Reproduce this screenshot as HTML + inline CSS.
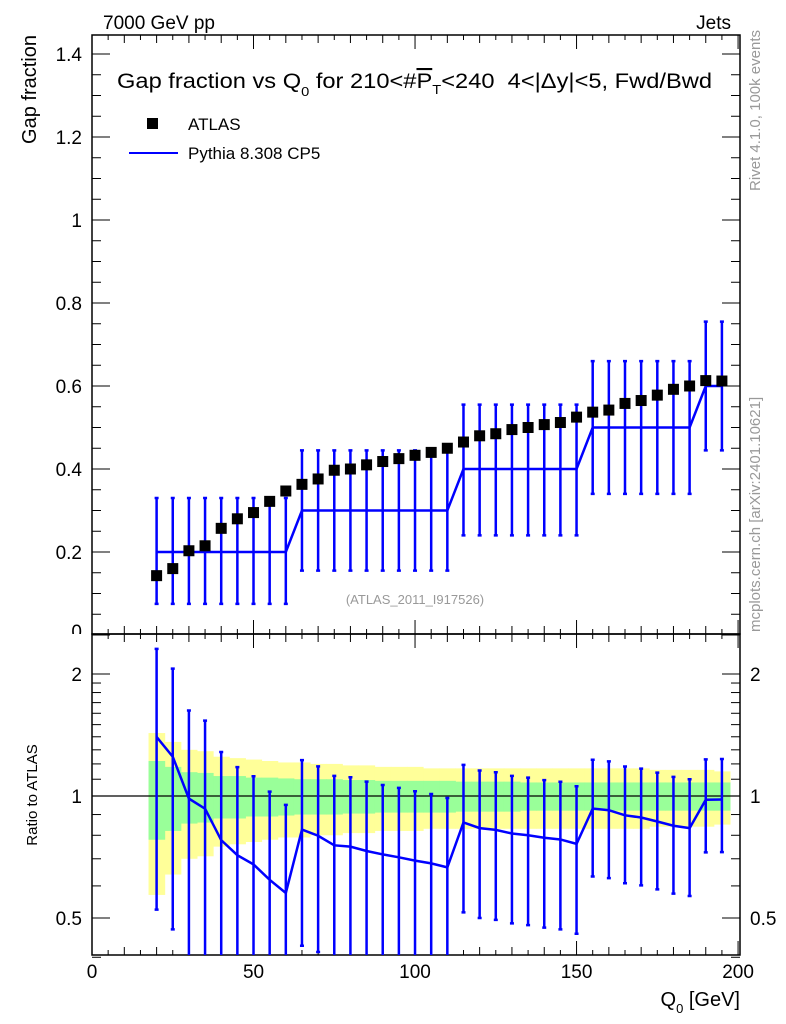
<!DOCTYPE html>
<html><head><meta charset="utf-8"><style>
body{margin:0;background:#fff}
svg{display:block;font-family:"Liberation Sans",sans-serif}
</style></head><body>
<svg id="c" width="786" height="1024" viewBox="0 0 786 1024" xmlns="http://www.w3.org/2000/svg">
<g id="bands"></g>
<g id="axes"></g>
<g id="marks"></g>
<text x="103" y="29" font-size="19">7000 GeV pp</text>
<text x="731" y="29" font-size="19" text-anchor="end">Jets</text>
<text x="117" y="88" font-size="21" textLength="595" lengthAdjust="spacingAndGlyphs" xml:space="preserve">Gap fraction vs Q<tspan font-size="13" dy="8">0</tspan><tspan dy="-8"> for 210&lt;#</tspan><tspan text-decoration="overline">P</tspan><tspan font-size="13" dy="6">T</tspan><tspan dy="-6">&lt;240  4&lt;|Δy|&lt;5, Fwd/Bwd</tspan></text>
<rect x="147" y="118" width="11" height="11" fill="#000"/>
<text x="188" y="130" font-size="17">ATLAS</text>
<line x1="129" y1="153" x2="178" y2="153" stroke="#00f" stroke-width="2"/>
<text x="188" y="159" font-size="17">Pythia 8.308 CP5</text>
<text x="415" y="604" font-size="13" fill="#999" text-anchor="middle">(ATLAS_2011_I917526)</text>
<text transform="translate(36,35) rotate(-90)" font-size="20" text-anchor="end">Gap fraction</text>
<text transform="translate(37,795) rotate(-90)" font-size="15" text-anchor="middle">Ratio to ATLAS</text>
<text transform="translate(760,30) rotate(-90)" font-size="15" fill="#999" text-anchor="end">Rivet 4.1.0,  100k events</text>
<text transform="translate(760,632) rotate(-90)" font-size="15" fill="#999">mcplots.cern.ch [arXiv:2401.10621]</text>
<text x="740" y="1006" font-size="20" text-anchor="end">Q<tspan font-size="13" dy="7">0</tspan><tspan dy="-7"> [GeV]</tspan></text>
</svg>
<script>
const xs=[20,25,30,35,40,45,50,55,60,65,70,75,80,85,90,95,100,105,110,115,120,125,130,135,140,145,150,155,160,165,170,175,180,185,190,195];
const dataY=[0.143,0.160,0.203,0.215,0.257,0.280,0.295,0.322,0.347,0.363,0.376,0.397,0.400,0.410,0.418,0.425,0.433,0.440,0.450,0.465,0.480,0.485,0.495,0.500,0.507,0.512,0.525,0.537,0.542,0.558,0.565,0.578,0.592,0.600,0.613,0.612];
const mcY=[0.2,0.2,0.2,0.2,0.2,0.2,0.2,0.2,0.2,0.3,0.3,0.3,0.3,0.3,0.3,0.3,0.3,0.3,0.3,0.4,0.4,0.4,0.4,0.4,0.4,0.4,0.4,0.5,0.5,0.5,0.5,0.5,0.5,0.5,0.6,0.6];
const mcLo=[0.075,0.075,0.075,0.075,0.075,0.075,0.075,0.075,0.075,0.155,0.155,0.155,0.155,0.155,0.155,0.155,0.155,0.155,0.155,0.24,0.24,0.24,0.24,0.24,0.24,0.24,0.24,0.34,0.34,0.34,0.34,0.34,0.34,0.34,0.445,0.445];
const mcHi=[0.33,0.33,0.33,0.33,0.33,0.33,0.33,0.33,0.33,0.445,0.445,0.445,0.445,0.445,0.445,0.445,0.445,0.445,0.445,0.555,0.555,0.555,0.555,0.555,0.555,0.555,0.555,0.66,0.66,0.66,0.66,0.66,0.66,0.66,0.755,0.755];
const statRel=[0.22,0.18,0.145,0.14,0.12,0.12,0.11,0.11,0.105,0.10,0.10,0.10,0.095,0.095,0.09,0.09,0.09,0.09,0.09,0.085,0.085,0.085,0.085,0.08,0.08,0.08,0.08,0.08,0.08,0.08,0.08,0.08,0.08,0.08,0.08,0.08];
const totRel=[0.43,0.36,0.30,0.29,0.25,0.24,0.23,0.22,0.21,0.21,0.20,0.20,0.19,0.19,0.18,0.18,0.18,0.17,0.17,0.17,0.17,0.17,0.17,0.17,0.17,0.17,0.17,0.17,0.17,0.17,0.17,0.16,0.16,0.16,0.16,0.15];
const xTicks=[0,50,100,150,200];
const yTicks=[0,0.2,0.4,0.6,0.8,1,1.2,1.4];
const yTickLabels=["0","0.2","0.4","0.6","0.8","1","1.2","1.4"];
const rTicks=[0.5,1,2];
const rTickLabels=["0.5","1","2"];
const rMinor=[0.4,0.6,0.7,0.8,0.9,1.1,1.2,1.3,1.4,1.5,1.6,1.7,1.8,1.9];

const NS="http://www.w3.org/2000/svg";
const L=92,R=740,T=35,M=634,B=955;
const X=v=>L+v*(R-L)/200.6;
const Y=v=>635-v*415;
const RY=v=>796-Math.log2(v)*122;
function mk(tag,a,p){const e=document.createElementNS(NS,tag);for(const k in a)e.setAttribute(k,a[k]);p.appendChild(e);return e;}
const bands=document.getElementById('bands'),axes=document.getElementById('axes'),marks=document.getElementById('marks');
const clip=mk('clipPath',{id:'rc'},document.getElementById('c'));
mk('rect',{x:L,y:M,width:R-L,height:B-M},clip);
bands.setAttribute('clip-path','url(#rc)');
xs.forEach((x,i)=>{
 const b=mk('rect',{x:X(x-2.5),y:RY(1+totRel[i]),width:X(x+2.5)-X(x-2.5)+0.5,height:RY(1-totRel[i])-RY(1+totRel[i]),fill:'#ffff99'},bands);
 
 
});
xs.forEach((x,i)=>{
 const b=mk('rect',{x:X(x-2.5),y:RY(1+statRel[i]),width:X(x+2.5)-X(x-2.5)+0.5,height:RY(1-statRel[i])-RY(1+statRel[i]),fill:'#99ff99'},bands);
 
 
});
const f1=mk('rect',{x:L,y:T,width:R-L,height:M-T,fill:'none',stroke:'#000','stroke-width':1.5},axes);

const f2=mk('rect',{x:L,y:M,width:R-L,height:B-M,fill:'none',stroke:'#000','stroke-width':1.5},axes);

const one=mk('line',{x1:L,x2:R,y1:RY(1),y2:RY(1),stroke:'#000','stroke-width':1.2},axes);

for(let v=0;v<=200;v+=5){
 const big=v%50===0, len=big?14:(v%10===0?8:5);
 [[T,1],[M,-1],[M,1],[B,-1]].forEach(([y0,d])=>{mk('line',{x1:X(v),x2:X(v),y1:y0,y2:y0+d*len,stroke:'#000','stroke-width':1},axes);});
}
xTicks.forEach(v=>{const t=mk('text',{x:X(v),y:978,'font-size':19,'text-anchor':'middle'},axes);t.textContent=v;
 });
for(let v=0;v<=1.44;v+=0.05){
 const vv=Math.round(v*100)/100,big=Math.round(vv*100)%20===0,len=big?18:9;
 mk('line',{x1:L,x2:L+len,y1:Y(vv),y2:Y(vv),stroke:'#000'},axes);
 mk('line',{x1:R,x2:R-len,y1:Y(vv),y2:Y(vv),stroke:'#000'},axes);
}
const tc=mk('clipPath',{id:'tc'},document.getElementById('c'));mk('rect',{x:0,y:0,width:100,height:M},tc);
yTicks.forEach((v,i)=>{const t=mk('text',{x:82,y:Y(v)+7,'font-size':19,'text-anchor':'end'},axes);t.textContent=yTickLabels[i];
 if(v===0){t.setAttribute('y',Y(v)+3);t.setAttribute('clip-path','url(#tc)');}
 });
rMinor.forEach(v=>{mk('line',{x1:L,x2:L+9,y1:RY(v),y2:RY(v),stroke:'#000'},axes);mk('line',{x1:R,x2:R-9,y1:RY(v),y2:RY(v),stroke:'#000'},axes);});
rTicks.forEach((v,i)=>{
 mk('line',{x1:L,x2:L+18,y1:RY(v),y2:RY(v),stroke:'#000'},axes);mk('line',{x1:R,x2:R-18,y1:RY(v),y2:RY(v),stroke:'#000'},axes);
 const t=mk('text',{x:82,y:RY(v)+7,'font-size':19,'text-anchor':'end'},axes);t.textContent=rTickLabels[i];
 
 const t2=mk('text',{x:750,y:RY(v)+7,'font-size':19},axes);t2.textContent=rTickLabels[i];
 
});
xs.forEach((x,i)=>{
 const e=mk('path',{d:`M${X(x)},${Y(mcLo[i])}V${Y(mcHi[i])}M${X(x)-2},${Y(mcLo[i])}h4M${X(x)-2},${Y(mcHi[i])}h4`,stroke:'#00f','stroke-width':2.5,fill:'none'},marks);
 
});
const ml=mk('polyline',{points:xs.map((x,i)=>X(x)+','+Y(mcY[i])).join(' '),stroke:'#00f','stroke-width':2.5,fill:'none'},marks);

xs.forEach((x,i)=>{
 const r=mk('rect',{x:X(x)-5.5,y:Y(dataY[i])-5.5,width:11,height:11,fill:'#000'},marks);
 
});
const rg=mk('g',{'clip-path':'url(#rc)'},marks);
xs.forEach((x,i)=>{
 const lo=mcLo[i]/dataY[i],hi=mcHi[i]/dataY[i];
 const e=mk('path',{d:`M${X(x)},${RY(lo)}V${RY(hi)}M${X(x)-2},${RY(lo)}h4M${X(x)-2},${RY(hi)}h4`,stroke:'#00f','stroke-width':2.5,fill:'none'},rg);
 
});
const rl=mk('polyline',{points:xs.map((x,i)=>X(x)+','+RY(mcY[i]/dataY[i])).join(' '),stroke:'#00f','stroke-width':2.5,fill:'none'},rg);

</script>
</body></html>
